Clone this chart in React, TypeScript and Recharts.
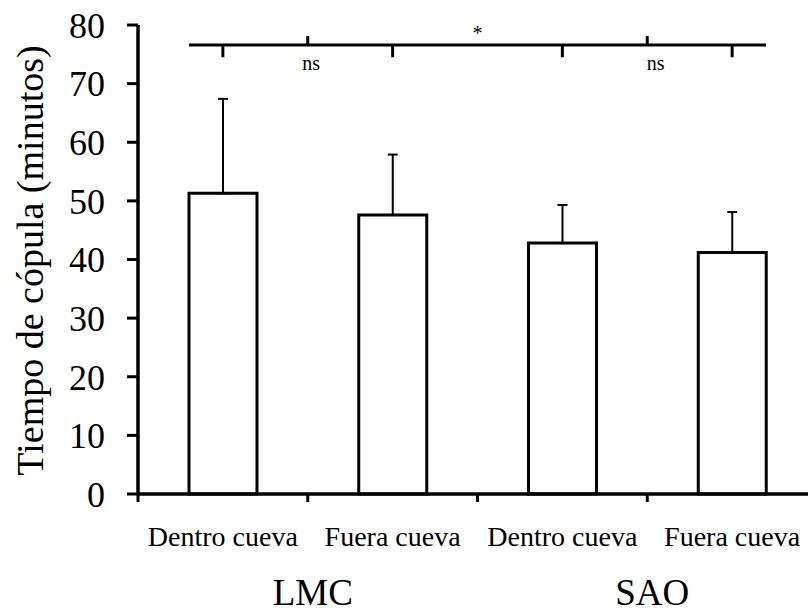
import React from 'react';
import {
  BarChart, Bar, XAxis, YAxis, ErrorBar, ReferenceLine, ReferenceDot,
} from 'recharts';

// ── data ──────────────────────────────────────────────────────────────────────

const categories = ['Dentro cueva', 'Fuera cueva', 'Dentro cueva', 'Fuera cueva'];
const positions = [0.5, 1.5, 2.5, 3.5];
const means = [51.3, 47.6, 42.8, 41.2];
const upperErr = [16.1, 10.3, 6.5, 6.9];
const groupLabels = ['LMC', 'SAO'];
const groupTicks = [1, 3];
const boundaryTicks = [0, 1, 2, 3, 4];
const yTicks = [0, 10, 20, 30, 40, 50, 60, 70, 80];

// significance annotation (x in band units, y in data units)
const bracketY = 76.6;
const bracketSpan = [0.3, 3.7];
const upTicks = [1, 3];
const downTicks = [0.5, 1.5, 2.5, 3.5];
const upTop = 78.1;
const downBottom = 74.5;
const nsMarks = [1.02, 3.05];
const nsY = 73.5;
const starX = 2;
const starY = 78.7;

const data = categories.map((name, i) => ({
  key: `c${i}`,
  name,
  pos: positions[i],
  value: means[i],
  err: [0, upperErr[i]],
}));

const FONT = '"Liberation Serif", "Times New Roman", serif';
const INK = '#000';

// axis ids are sorted, so a_ sits on the plot, then b_, then c_
export default function App() {
  return (
    <div style={{ position: 'absolute', left: 0, top: 0, width: 808, height: 612, overflow: 'hidden', background: '#fff' }}>
      <BarChart
        width={825}
        height={612}
        data={data}
        margin={{ top: 25, right: 8, bottom: 0, left: 0 }}
        barSize={68}
      >
        <XAxis
          xAxisId="a_num"
          dataKey="pos"
          type="number"
          scale="linear"
          domain={[0, 4]}
          allowDataOverflow
          ticks={boundaryTicks}
          tickFormatter={() => ''}
          tickSize={8}
          height={12}
          axisLine={{ stroke: INK, strokeWidth: 3.5 }}
          tickLine={{ stroke: INK, strokeWidth: 3 }}
        />
        <XAxis
          xAxisId="b_cat"
          dataKey="key"
          type="category"
          tickFormatter={(_v, i) => categories[i]}
          axisLine={false}
          tickLine={false}
          tickSize={0}
          tickMargin={20}
          height={50}
          interval={0}
          tick={{ fontSize: 28, fill: INK, fontFamily: FONT }}
        />
        <XAxis
          xAxisId="c_grp"
          dataKey="pos"
          type="number"
          scale="linear"
          domain={[0, 4]}
          allowDataOverflow
          ticks={groupTicks}
          tickFormatter={(v) => groupLabels[groupTicks.indexOf(v)]}
          axisLine={false}
          tickLine={false}
          tickSize={0}
          tickMargin={23}
          height={56}
          tick={{ fontSize: 37, fill: INK, fontFamily: FONT, dx: 5 }}
        />
        <YAxis
          domain={[0, 80]}
          ticks={yTicks}
          width={138}
          tickSize={11}
          tickMargin={22}
          axisLine={{ stroke: INK, strokeWidth: 3.5 }}
          tickLine={{ stroke: INK, strokeWidth: 3 }}
          tick={{ fontSize: 36, fill: INK, fontFamily: FONT }}
          label={{
            content: ({ viewBox }: any) => {
              const cx = 43;
              const cy = viewBox.y + viewBox.height / 2 + 1;
              return (
                <text
                  x={cx}
                  y={cy}
                  transform={`rotate(-90 ${cx} ${cy})`}
                  textAnchor="middle"
                  fontSize={38}
                  fontFamily={FONT}
                  fill={INK}
                >
                  Tiempo de cópula (minutos)
                </text>
              );
            },
          }}
        />
        <Bar
          xAxisId="b_cat"
          dataKey="value"
          fill="#fff"
          stroke={INK}
          strokeWidth={3}
          isAnimationActive={false}
        >
          <ErrorBar dataKey="err" width={5} stroke={INK} strokeWidth={2} direction="y" />
        </Bar>

        {/* significance brackets */}
        <ReferenceLine
          xAxisId="a_num"
          segment={[{ x: bracketSpan[0], y: bracketY }, { x: bracketSpan[1], y: bracketY }]}
          stroke={INK}
          strokeWidth={3}
          ifOverflow="visible"
        />
        {upTicks.map((x) => (
          <ReferenceLine
            key={`u${x}`}
            xAxisId="a_num"
            segment={[{ x, y: bracketY }, { x, y: upTop }]}
            stroke={INK}
            strokeWidth={3}
            ifOverflow="visible"
          />
        ))}
        {downTicks.map((x) => (
          <ReferenceLine
            key={`d${x}`}
            xAxisId="a_num"
            segment={[{ x, y: bracketY }, { x, y: downBottom }]}
            stroke={INK}
            strokeWidth={3}
            ifOverflow="visible"
          />
        ))}
        {nsMarks.map((x) => (
          <ReferenceDot
            key={`ns${x}`}
            xAxisId="a_num"
            x={x}
            y={nsY}
            r={0}
            fill="none"
            stroke="none"
            ifOverflow="visible"
            label={{ value: 'ns', position: 'center', fontSize: 20, fill: INK, fontFamily: FONT }}
          />
        ))}
        <ReferenceDot
          xAxisId="a_num"
          x={starX}
          y={starY}
          r={0}
          fill="none"
          stroke="none"
          ifOverflow="visible"
          label={{ value: '*', position: 'center', fontSize: 20, fill: INK, fontFamily: FONT }}
        />
      </BarChart>
    </div>
  );
}
